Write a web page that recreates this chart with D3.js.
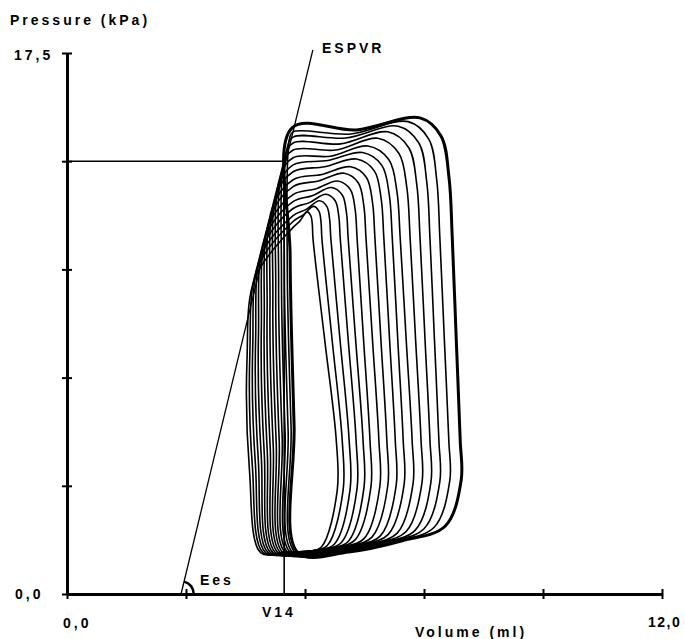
<!DOCTYPE html>
<html><head><meta charset="utf-8">
<script src="https://cdn.jsdelivr.net/npm/d3@7"></script>
<style>
html,body{margin:0;padding:0;background:#fff;}
svg text{font-family:"Liberation Sans",Arial,sans-serif;font-weight:bold;font-size:14px;letter-spacing:3px;fill:#000;}
</style></head>
<body>
<svg id="chart" width="685" height="639"></svg>
<script>
// ---- data (volume in ml, pressure in kPa) ----
const volumeDomain = [0, 12];
const pressureDomain = [0, 17.5];
const yTickValues = [0, 3.5, 7, 10.5, 14, 17.5];
const xTickValues = [0, 2.4, 4.8, 7.2, 9.6, 12];
const yTickLabels = ["0,0", "17,5"];
const xTickLabels = ["0,0", "12,0"];

// ESPVR line
const espvrV0 = 2.30;      // volume intercept
const espvrEes = 6.62;     // slope, kPa/ml
const espvrTopP = 17.6;
const refPressure = 14.0;  // horizontal reference line
const v14 = 4.38;

// pressure–volume loops (outer/first beat → inner/last beat during occlusion)
const loopESV      = [4.54,4.49,4.44,4.39,4.34,4.29,4.24,4.19,4.14,4.09,4.04,3.99,3.94,3.89,3.84,3.79];
const loopESP      = [15.08,14.75,14.43,14.10,13.78,13.46,13.13,12.81,12.49,12.16,11.84,11.52,11.19,10.87,10.55,10.22];
const loopCrossP   = [15.08,14.95,14.78,14.59,14.36,14.11,13.88,13.66,13.40,13.18,12.92,12.69,12.47,12.24,12.05,11.86];
const loopMidTopP  = [15.01,14.88,14.75,14.56,14.36,14.16,14.02,13.82,13.57,13.36,13.10,12.88,12.66,12.44,12.26,12.07];
const loopPeakV    = [7.12,6.88,6.68,6.47,6.27,6.07,5.96,5.84,5.72,5.59,5.46,5.33,5.22,5.09,4.97,4.84];
const loopPeakP    = [15.40,15.28,15.13,14.95,14.74,14.49,14.28,14.07,13.82,13.61,13.36,13.15,12.93,12.72,12.54,12.36];
const loopUpperRightV = [7.77,7.52,7.32,7.12,6.92,6.72,6.56,6.39,6.21,6.03,5.85,5.67,5.51,5.32,5.14,4.96];
const loopLowerRightV = [7.93,7.70,7.50,7.32,7.14,6.96,6.78,6.62,6.45,6.29,6.11,5.97,5.83,5.69,5.55,5.43];
const loopEDP      = [2.20,2.15,2.11,2.06,2.02,1.97,1.93,1.88,1.84,1.79,1.75,1.70,1.66,1.61,1.57,1.52];
const crossV = 4.56, upperP = 11.52, midP = 8.25, lowerP = 4.98, floorP = 1.33;

// ---- drawing ----
const svg = d3.select("#chart");
const x = d3.scaleLinear().domain(volumeDomain).range([67, 662]);
const y = d3.scaleLinear().domain(pressureDomain).range([594, 53]);

function loopPoints(k) {
  const esv = loopESV[k], esp = loopESP[k];
  const rU = loopUpperRightV[k], rL = loopLowerRightV[k];
  const pv = loopPeakV[k], pp = loopPeakP[k], edp = loopEDP[k];
  const pts = [];
  pts.push([esv, esp]);
  pts.push([esv - 0.04 - 0.008 * k, esp - (esp - floorP) * 0.3]);
  pts.push([esv + 0.04 - 0.01 * k, esp - (esp - floorP) * 0.7]);
  pts.push([esv + 0.12, floorP]);
  pts.push([esv + 0.12 + (rL - esv) * 0.3, floorP + 0.03]);
  pts.push([esv + (rL - esv) * 0.65, (edp + floorP) / 2 - 0.05]);
  pts.push([rL - 0.3, edp]);
  pts.push([rL + 0.02, (lowerP + edp) / 2 + 0.1]);
  pts.push([rL, lowerP]);
  pts.push([(rU + rL) / 2, midP]);
  pts.push([rU, upperP]);
  pts.push([pv + (rU - pv) * 0.9, pp - (pp - upperP) * 0.5]);
  pts.push([pv + (rU - pv) * 0.65, pp - (pp - upperP) * 0.15]);
  pts.push([pv, pp]);
  pts.push([(crossV + pv) / 2, loopMidTopP[k]]);
  if (esv < crossV - 0.03) pts.push([crossV, loopCrossP[k]]);
  return pts;
}

const line = d3.line().x(d => x(d[0])).y(d => y(d[1])).curve(d3.curveCatmullRomClosed.alpha(0.5));
const loopsG = svg.append("g");
for (let k = loopESV.length - 1; k >= 0; k--) {
  loopsG.append("path")
    .attr("d", line(loopPoints(k)))
    .attr("fill", "none")
    .attr("stroke", "#000")
    .attr("stroke-width", k === 0 ? 3 : 1.6)
    .attr("stroke-linejoin", "round");
}

// reference lines
svg.append("line").attr("x1", x(0)).attr("x2", x(v14)).attr("y1", y(refPressure)).attr("y2", y(refPressure))
  .attr("stroke", "#000").attr("stroke-width", 1.6);
svg.append("line").attr("x1", x(v14)).attr("x2", x(v14)).attr("y1", y(0)).attr("y2", y(refPressure))
  .attr("stroke", "#000").attr("stroke-width", 1.6);
// ESPVR
svg.append("line").attr("x1", x(espvrV0)).attr("y1", y(0))
  .attr("x2", x(espvrV0 + espvrTopP / espvrEes)).attr("y2", y(espvrTopP))
  .attr("stroke", "#000").attr("stroke-width", 1.3);
// Ees angle arc
const ang = Math.atan2(y(0) - y(espvrTopP), x(espvrV0 + espvrTopP / espvrEes) - x(espvrV0));
svg.append("path")
  .attr("d", d3.arc().innerRadius(11.5).outerRadius(14)
    .startAngle(Math.PI / 2 - ang).endAngle(Math.PI / 2)())
  .attr("transform", `translate(${x(espvrV0)},${y(0)})`)
  .attr("fill", "#000");

// axes
const yAxis = svg.append("g").attr("transform", `translate(${x(0)},0)`)
  .call(d3.axisLeft(y).tickValues(yTickValues).tickFormat("").tickSizeOuter(0));
yAxis.select(".domain").attr("stroke", "#000").attr("stroke-width", 3);
yAxis.selectAll(".tick line").attr("x1", -5).attr("x2", 5).attr("stroke-width", 2);

const xAxis = svg.append("g").attr("transform", `translate(0,${y(0)})`)
  .call(d3.axisBottom(x).tickValues(xTickValues).tickFormat("").tickSizeOuter(0));
xAxis.select(".domain").attr("stroke", "#000").attr("stroke-width", 3);
xAxis.selectAll(".tick line").attr("y1", -5).attr("y2", 5).attr("stroke-width", 2);

// texts
svg.append("text").attr("x", 10).attr("y", 25).text("Pressure (kPa)");
svg.append("text").attr("x", 14).attr("y", 60).text(yTickLabels[1]);
svg.append("text").attr("x", 15).attr("y", 599).text(yTickLabels[0]);
svg.append("text").attr("x", 63).attr("y", 628).text(xTickLabels[0]);
svg.append("text").attr("x", 648).attr("y", 627).style("letter-spacing", "1.5px").text(xTickLabels[1]);
svg.append("text").attr("x", 262).attr("y", 617).text("V14");
svg.append("text").attr("x", 415).attr("y", 637).text("Volume (ml)");
svg.append("text").attr("x", 322).attr("y", 53).text("ESPVR");
svg.append("text").attr("x", 200).attr("y", 585).text("Ees");
</script>
</body></html>
